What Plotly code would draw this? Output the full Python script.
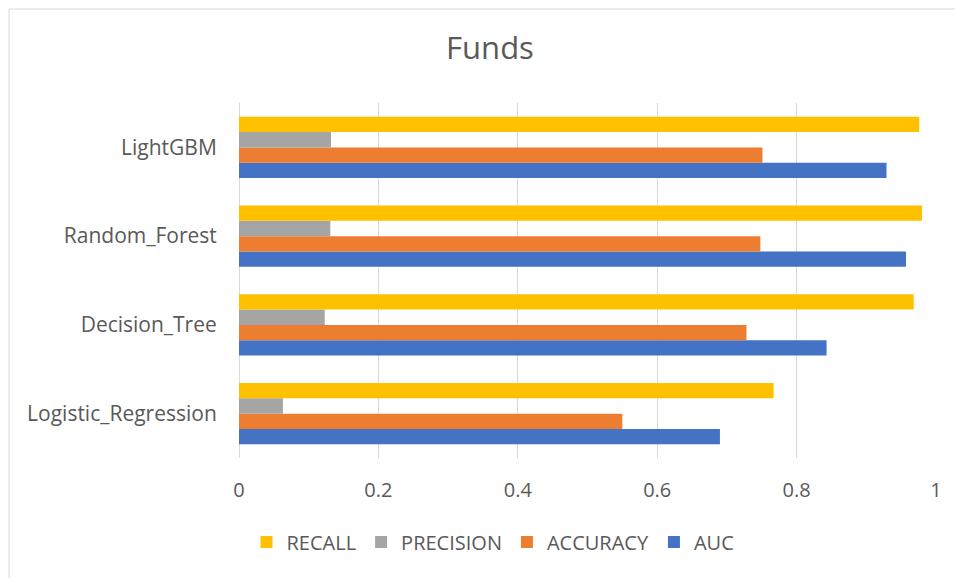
import plotly.graph_objects as go

categories = ["Logistic_Regression", "Decision_Tree", "Random_Forest", "LightGBM"]
auc = [0.690, 0.843, 0.957, 0.929]
accuracy = [0.550, 0.728, 0.748, 0.751]
precision = [0.063, 0.123, 0.131, 0.132]
recall = [0.767, 0.968, 0.980, 0.976]

series = [
    ("AUC", auc, "#4472C4"),
    ("ACCURACY", accuracy, "#ED7D31"),
    ("PRECISION", precision, "#A5A5A5"),
    ("RECALL", recall, "#FFC000"),
]

# page body has an 8px default margin, so the figure is sized to fit
OFF = 8
W, H = 963 - OFF, 578 - OFF
L, R, T, B = 239 - OFF, 27, 103 - OFF, 120
pw, ph = W - L - R, H - T - B

fig = go.Figure()
for name, vals, col in series:
    fig.add_trace(go.Bar(
        y=categories, x=vals, name=name, orientation="h",
        marker=dict(color=col, line=dict(width=0)),
    ))

font = "'Open Sans', sans-serif"
fig.update_layout(
    width=W, height=H,
    margin=dict(l=L, r=R, t=T, b=B),
    paper_bgcolor="white", plot_bgcolor="white",
    barmode="group", bargap=0.31, bargroupgap=0,
    title=dict(text="Funds", xanchor="center", y=1 - (48 - OFF) / H, yanchor="middle",
               font=dict(family=font, size=31, color="#595959")),
    font=dict(family=font, size=20, color="#595959"),
    xaxis=dict(range=[0, 1], dtick=0.2, tick0=0, showgrid=True, gridcolor="#D9D9D9", gridwidth=1,
               zeroline=True, zerolinecolor="#D9D9D9", zerolinewidth=1, showline=False,
               ticks="outside", ticklen=14, tickcolor="rgba(0,0,0,0)",
               tickfont=dict(family=font, size=20, color="#595959")),
    yaxis=dict(showgrid=False, zeroline=False, showline=False, ticks="outside", ticklen=17,
               tickcolor="rgba(0,0,0,0)", tickfont=dict(family=font, size=21, color="#595959")),
    legend=dict(orientation="h", traceorder="reversed", x=(493 - OFF - L) / pw, xanchor="center",
                y=-(542 - 458) / ph, yanchor="middle", font=dict(family=font, size=20, color="#595959"),
                itemwidth=30),
    shapes=[
        dict(type="rect", xref="paper", yref="paper",
             x0=-(L - 1) / pw, x1=1 + (R + 20) / pw, y0=-(B + 20) / ph, y1=1 + (T - 1) / ph,
             line=dict(color="#D9D9D9", width=1), fillcolor="rgba(0,0,0,0)", layer="below"),
    ],
)
fig.update_layout(title_x=(490 - OFF) / W)
fig.write_html("out.html")
